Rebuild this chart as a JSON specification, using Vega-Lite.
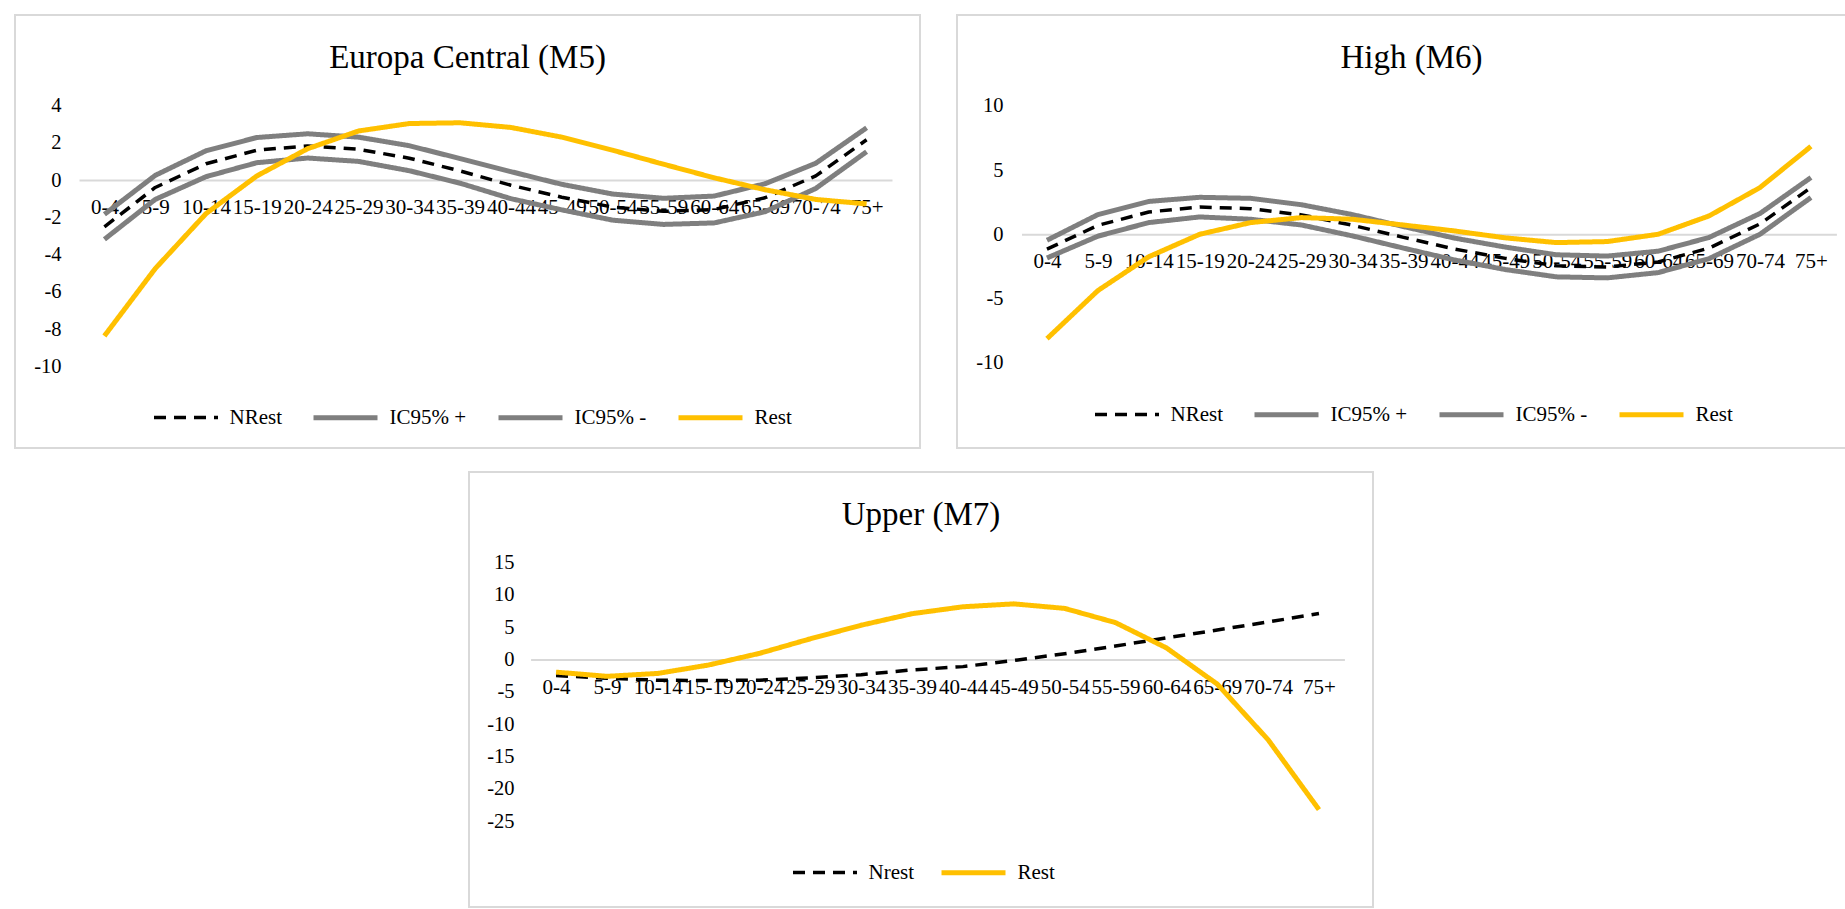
{
  "$schema": "https://vega.github.io/schema/vega-lite/v6.json",
  "padding": {"left": 14, "top": 14, "right": 0, "bottom": 0},
  "background": "white",
  "config": {
    "view": {"stroke": "#d9d9d9", "strokeWidth": 2},
    "font": "Liberation Serif",
    "axis": {"labelFont": "Liberation Serif", "labelColor": "#000000", "labelFontSize": 20.5, "grid": false, "ticks": false, "tickSize": 0, "title": null, "zindex": 0},
    "axisX": {"labelFontSize": 21},
    "legend": {"labelFont": "Liberation Serif", "labelFontSize": 21, "labelColor": "#000000", "title": null, "orient": "none", "direction": "horizontal", "symbolType": "stroke", "symbolSize": 4096, "labelOffset": 9.5, "columnPadding": 21},
    "title": {"font": "Liberation Serif", "fontSize": 33, "fontWeight": "normal", "color": "#000000", "anchor": "middle", "frame": "group", "offset": -60}
  },
  "datasets": {
    "m5": [
      {"age": "0-4", "series": "IC95% +", "value": -1.84}, {"age": "5-9", "series": "IC95% +", "value": 0.25}, {"age": "10-14", "series": "IC95% +", "value": 1.57}, {"age": "15-19", "series": "IC95% +", "value": 2.28}, {"age": "20-24", "series": "IC95% +", "value": 2.48}, {"age": "25-29", "series": "IC95% +", "value": 2.3}, {"age": "30-34", "series": "IC95% +", "value": 1.84}, {"age": "35-39", "series": "IC95% +", "value": 1.15}, {"age": "40-44", "series": "IC95% +", "value": 0.45}, {"age": "45-49", "series": "IC95% +", "value": -0.23}, {"age": "50-54", "series": "IC95% +", "value": -0.75}, {"age": "55-59", "series": "IC95% +", "value": -0.98}, {"age": "60-64", "series": "IC95% +", "value": -0.86}, {"age": "65-69", "series": "IC95% +", "value": -0.2}, {"age": "70-74", "series": "IC95% +", "value": 0.9}, {"age": "75+", "series": "IC95% +", "value": 2.8},
      {"age": "0-4", "series": "IC95% -", "value": -3.18}, {"age": "5-9", "series": "IC95% -", "value": -1.04}, {"age": "10-14", "series": "IC95% -", "value": 0.18}, {"age": "15-19", "series": "IC95% -", "value": 0.93}, {"age": "20-24", "series": "IC95% -", "value": 1.18}, {"age": "25-29", "series": "IC95% -", "value": 1.0}, {"age": "30-34", "series": "IC95% -", "value": 0.5}, {"age": "35-39", "series": "IC95% -", "value": -0.17}, {"age": "40-44", "series": "IC95% -", "value": -1.0}, {"age": "45-49", "series": "IC95% -", "value": -1.6}, {"age": "50-54", "series": "IC95% -", "value": -2.15}, {"age": "55-59", "series": "IC95% -", "value": -2.38}, {"age": "60-64", "series": "IC95% -", "value": -2.3}, {"age": "65-69", "series": "IC95% -", "value": -1.7}, {"age": "70-74", "series": "IC95% -", "value": -0.45}, {"age": "75+", "series": "IC95% -", "value": 1.52},
      {"age": "0-4", "series": "NRest", "value": -2.51}, {"age": "5-9", "series": "NRest", "value": -0.4}, {"age": "10-14", "series": "NRest", "value": 0.87}, {"age": "15-19", "series": "NRest", "value": 1.6}, {"age": "20-24", "series": "NRest", "value": 1.83}, {"age": "25-29", "series": "NRest", "value": 1.65}, {"age": "30-34", "series": "NRest", "value": 1.17}, {"age": "35-39", "series": "NRest", "value": 0.49}, {"age": "40-44", "series": "NRest", "value": -0.28}, {"age": "45-49", "series": "NRest", "value": -0.92}, {"age": "50-54", "series": "NRest", "value": -1.45}, {"age": "55-59", "series": "NRest", "value": -1.68}, {"age": "60-64", "series": "NRest", "value": -1.58}, {"age": "65-69", "series": "NRest", "value": -0.95}, {"age": "70-74", "series": "NRest", "value": 0.22}, {"age": "75+", "series": "NRest", "value": 2.16},
      {"age": "0-4", "series": "Rest", "value": -8.36}, {"age": "5-9", "series": "Rest", "value": -4.75}, {"age": "10-14", "series": "Rest", "value": -1.8}, {"age": "15-19", "series": "Rest", "value": 0.22}, {"age": "20-24", "series": "Rest", "value": 1.68}, {"age": "25-29", "series": "Rest", "value": 2.63}, {"age": "30-34", "series": "Rest", "value": 3.03}, {"age": "35-39", "series": "Rest", "value": 3.07}, {"age": "40-44", "series": "Rest", "value": 2.82}, {"age": "45-49", "series": "Rest", "value": 2.3}, {"age": "50-54", "series": "Rest", "value": 1.6}, {"age": "55-59", "series": "Rest", "value": 0.85}, {"age": "60-64", "series": "Rest", "value": 0.12}, {"age": "65-69", "series": "Rest", "value": -0.52}, {"age": "70-74", "series": "Rest", "value": -1.04}, {"age": "75+", "series": "Rest", "value": -1.28}
    ],
    "m6": [
      {"age": "0-4", "series": "IC95% +", "value": -0.47}, {"age": "5-9", "series": "IC95% +", "value": 1.53}, {"age": "10-14", "series": "IC95% +", "value": 2.56}, {"age": "15-19", "series": "IC95% +", "value": 2.88}, {"age": "20-24", "series": "IC95% +", "value": 2.8}, {"age": "25-29", "series": "IC95% +", "value": 2.3}, {"age": "30-34", "series": "IC95% +", "value": 1.53}, {"age": "35-39", "series": "IC95% +", "value": 0.6}, {"age": "40-44", "series": "IC95% +", "value": -0.3}, {"age": "45-49", "series": "IC95% +", "value": -1.0}, {"age": "50-54", "series": "IC95% +", "value": -1.6}, {"age": "55-59", "series": "IC95% +", "value": -1.7}, {"age": "60-64", "series": "IC95% +", "value": -1.32}, {"age": "65-69", "series": "IC95% +", "value": -0.25}, {"age": "70-74", "series": "IC95% +", "value": 1.62}, {"age": "75+", "series": "IC95% +", "value": 4.42},
      {"age": "0-4", "series": "IC95% -", "value": -1.85}, {"age": "5-9", "series": "IC95% -", "value": -0.15}, {"age": "10-14", "series": "IC95% -", "value": 0.91}, {"age": "15-19", "series": "IC95% -", "value": 1.35}, {"age": "20-24", "series": "IC95% -", "value": 1.17}, {"age": "25-29", "series": "IC95% -", "value": 0.72}, {"age": "30-34", "series": "IC95% -", "value": -0.13}, {"age": "35-39", "series": "IC95% -", "value": -1.08}, {"age": "40-44", "series": "IC95% -", "value": -2.0}, {"age": "45-49", "series": "IC95% -", "value": -2.75}, {"age": "50-54", "series": "IC95% -", "value": -3.32}, {"age": "55-59", "series": "IC95% -", "value": -3.4}, {"age": "60-64", "series": "IC95% -", "value": -2.99}, {"age": "65-69", "series": "IC95% -", "value": -1.9}, {"age": "70-74", "series": "IC95% -", "value": 0.0}, {"age": "75+", "series": "IC95% -", "value": 2.86},
      {"age": "0-4", "series": "NRest", "value": -1.16}, {"age": "5-9", "series": "NRest", "value": 0.69}, {"age": "10-14", "series": "NRest", "value": 1.74}, {"age": "15-19", "series": "NRest", "value": 2.12}, {"age": "20-24", "series": "NRest", "value": 1.99}, {"age": "25-29", "series": "NRest", "value": 1.51}, {"age": "30-34", "series": "NRest", "value": 0.7}, {"age": "35-39", "series": "NRest", "value": -0.24}, {"age": "40-44", "series": "NRest", "value": -1.15}, {"age": "45-49", "series": "NRest", "value": -1.88}, {"age": "50-54", "series": "NRest", "value": -2.46}, {"age": "55-59", "series": "NRest", "value": -2.55}, {"age": "60-64", "series": "NRest", "value": -2.16}, {"age": "65-69", "series": "NRest", "value": -1.08}, {"age": "70-74", "series": "NRest", "value": 0.81}, {"age": "75+", "series": "NRest", "value": 3.64},
      {"age": "0-4", "series": "Rest", "value": -8.14}, {"age": "5-9", "series": "Rest", "value": -4.39}, {"age": "10-14", "series": "Rest", "value": -1.75}, {"age": "15-19", "series": "Rest", "value": 0.0}, {"age": "20-24", "series": "Rest", "value": 0.91}, {"age": "25-29", "series": "Rest", "value": 1.3}, {"age": "30-34", "series": "Rest", "value": 1.17}, {"age": "35-39", "series": "Rest", "value": 0.72}, {"age": "40-44", "series": "Rest", "value": 0.26}, {"age": "45-49", "series": "Rest", "value": -0.28}, {"age": "50-54", "series": "Rest", "value": -0.65}, {"age": "55-59", "series": "Rest", "value": -0.57}, {"age": "60-64", "series": "Rest", "value": 0.0}, {"age": "65-69", "series": "Rest", "value": 1.43}, {"age": "70-74", "series": "Rest", "value": 3.64}, {"age": "75+", "series": "Rest", "value": 6.85}
    ],
    "m7": [
      {"age": "0-4", "series": "Nrest", "value": -2.47}, {"age": "5-9", "series": "Nrest", "value": -2.9}, {"age": "10-14", "series": "Nrest", "value": -3.2}, {"age": "15-19", "series": "Nrest", "value": -3.25}, {"age": "20-24", "series": "Nrest", "value": -3.2}, {"age": "25-29", "series": "Nrest", "value": -2.84}, {"age": "30-34", "series": "Nrest", "value": -2.35}, {"age": "35-39", "series": "Nrest", "value": -1.6}, {"age": "40-44", "series": "Nrest", "value": -1.1}, {"age": "45-49", "series": "Nrest", "value": -0.15}, {"age": "50-54", "series": "Nrest", "value": 0.9}, {"age": "55-59", "series": "Nrest", "value": 2.08}, {"age": "60-64", "series": "Nrest", "value": 3.35}, {"age": "65-69", "series": "Nrest", "value": 4.56}, {"age": "70-74", "series": "Nrest", "value": 5.8}, {"age": "75+", "series": "Nrest", "value": 7.1},
      {"age": "0-4", "series": "Rest", "value": -1.95}, {"age": "5-9", "series": "Rest", "value": -2.6}, {"age": "10-14", "series": "Rest", "value": -2.15}, {"age": "15-19", "series": "Rest", "value": -0.85}, {"age": "20-24", "series": "Rest", "value": 0.95}, {"age": "25-29", "series": "Rest", "value": 3.2}, {"age": "30-34", "series": "Rest", "value": 5.3}, {"age": "35-39", "series": "Rest", "value": 7.08}, {"age": "40-44", "series": "Rest", "value": 8.15}, {"age": "45-49", "series": "Rest", "value": 8.6}, {"age": "50-54", "series": "Rest", "value": 7.9}, {"age": "55-59", "series": "Rest", "value": 5.7}, {"age": "60-64", "series": "Rest", "value": 1.8}, {"age": "65-69", "series": "Rest", "value": -3.8}, {"age": "70-74", "series": "Rest", "value": -12.4}, {"age": "75+", "series": "Rest", "value": -23.2}
    ],
    "none": []
  },
  "vconcat": [
    {
      "hconcat": [
        {
          "width": 905, "height": 433,
          "data": {"name": "m5"},
          "title": {"text": "Europa Central (M5)"},
          "mark": {"type": "line", "strokeJoin": "round"},
          "encoding": {
            "x": {"field": "age", "type": "ordinal", "sort": ["0-4","5-9","10-14","15-19","20-24","25-29","30-34","35-39","40-44","45-49","50-54","55-59","60-64","65-69","70-74","75+"], "scale": {"type": "point", "range": [64, 877], "padding": 0.5}, "axis": {"orient": "bottom", "offset": -268, "domainColor": "#d9d9d9", "domainWidth": 2, "labelPadding": 16, "labelAngle": 0, "labelOverlap": false, "labelBound": false, "labelFlush": false}},
            "y": {"field": "value", "type": "quantitative", "scale": {"domain": [-14.37, 8.85], "nice": false, "zero": false}, "axis": {"values": [-10,-8,-6,-4,-2,0,2,4], "offset": -46, "domain": false, "labelPadding": 0, "labelExpr": "'' + datum.value"}},
            "color": {"field": "series", "type": "nominal", "scale": {"domain": ["NRest","IC95% +","IC95% -","Rest"], "range": ["#000000","#7f7f7f","#7f7f7f","#ffc000"]}, "legend": {"legendX": 137, "legendY": 368}},
            "strokeDash": {"field": "series", "type": "nominal", "scale": {"domain": ["NRest","IC95% +","IC95% -","Rest"], "range": [[12,8],[1,0],[1,0],[1,0]]}},
            "strokeWidth": {"field": "series", "type": "nominal", "scale": {"type": "ordinal", "domain": ["NRest","IC95% +","IC95% -","Rest"], "range": [3.5,5,5,5]}}
          }
        },
        {
          "width": 909, "height": 433,
          "data": {"name": "m6"},
          "title": {"text": "High (M6)"},
          "mark": {"type": "line", "strokeJoin": "round"},
          "encoding": {
            "x": {"field": "age", "type": "ordinal", "sort": ["0-4","5-9","10-14","15-19","20-24","25-29","30-34","35-39","40-44","45-49","50-54","55-59","60-64","65-69","70-74","75+"], "scale": {"type": "point", "range": [64.5, 879.4], "padding": 0.5}, "axis": {"orient": "bottom", "offset": -213.7, "domainColor": "#d9d9d9", "domainWidth": 2, "labelPadding": 16, "labelAngle": 0, "labelOverlap": false, "labelBound": false, "labelFlush": false}},
            "y": {"field": "value", "type": "quantitative", "scale": {"domain": [-16.66, 17.09], "nice": false, "zero": false}, "axis": {"values": [-10,-5,0,5,10], "offset": -46, "domain": false, "labelPadding": 0, "labelExpr": "'' + datum.value"}},
            "color": {"field": "series", "type": "nominal", "scale": {"domain": ["NRest","IC95% +","IC95% -","Rest"], "range": ["#000000","#7f7f7f","#7f7f7f","#ffc000"]}, "legend": {"legendX": 136, "legendY": 365}},
            "strokeDash": {"field": "series", "type": "nominal", "scale": {"domain": ["NRest","IC95% +","IC95% -","Rest"], "range": [[12,8],[1,0],[1,0],[1,0]]}},
            "strokeWidth": {"field": "series", "type": "nominal", "scale": {"type": "ordinal", "domain": ["NRest","IC95% +","IC95% -","Rest"], "range": [3.5,5,5,5]}}
          }
        }
      ],
      "spacing": 35,
      "resolve": {"scale": {"color": "independent", "strokeDash": "independent", "strokeWidth": "independent"}, "legend": {"color": "independent", "strokeDash": "independent", "strokeWidth": "independent"}}
    },
    {
      "hconcat": [
        {
          "width": 418, "height": 10,
          "data": {"name": "none"},
          "mark": "point",
          "encoding": {},
          "view": {"stroke": null}
        },
        {
          "width": 904, "height": 435,
          "data": {"name": "m7"},
          "title": {"text": "Upper (M7)"},
          "mark": {"type": "line", "strokeJoin": "round"},
          "encoding": {
            "x": {"field": "age", "type": "ordinal", "sort": ["0-4","5-9","10-14","15-19","20-24","25-29","30-34","35-39","40-44","45-49","50-54","55-59","60-64","65-69","70-74","75+"], "scale": {"type": "point", "range": [61.6, 875.4], "padding": 0.5}, "axis": {"orient": "bottom", "offset": -247.5, "domainColor": "#d9d9d9", "domainWidth": 2, "labelPadding": 17, "labelAngle": 0, "labelOverlap": false, "labelBound": false, "labelFlush": false}},
            "y": {"field": "value", "type": "quantitative", "scale": {"domain": [-38.25, 28.98], "nice": false, "zero": false}, "axis": {"values": [-25,-20,-15,-10,-5,0,5,10,15], "offset": -45, "domain": false, "labelPadding": 0, "labelExpr": "'' + datum.value"}},
            "color": {"field": "series", "type": "nominal", "scale": {"domain": ["Nrest","Rest"], "range": ["#000000","#ffc000"]}, "legend": {"legendX": 322, "legendY": 366, "columnPadding": 17}},
            "strokeDash": {"field": "series", "type": "nominal", "scale": {"domain": ["Nrest","Rest"], "range": [[12,8],[1,0]]}},
            "strokeWidth": {"field": "series", "type": "nominal", "scale": {"type": "ordinal", "domain": ["Nrest","Rest"], "range": [3.5,5]}}
          }
        }
      ],
      "spacing": 35,
      "resolve": {"scale": {"color": "independent", "strokeDash": "independent", "strokeWidth": "independent"}, "legend": {"color": "independent", "strokeDash": "independent", "strokeWidth": "independent"}}
    }
  ],
  "spacing": 22,
  "resolve": {"scale": {"color": "independent", "strokeDash": "independent", "strokeWidth": "independent"}, "legend": {"color": "independent", "strokeDash": "independent", "strokeWidth": "independent"}}
}
